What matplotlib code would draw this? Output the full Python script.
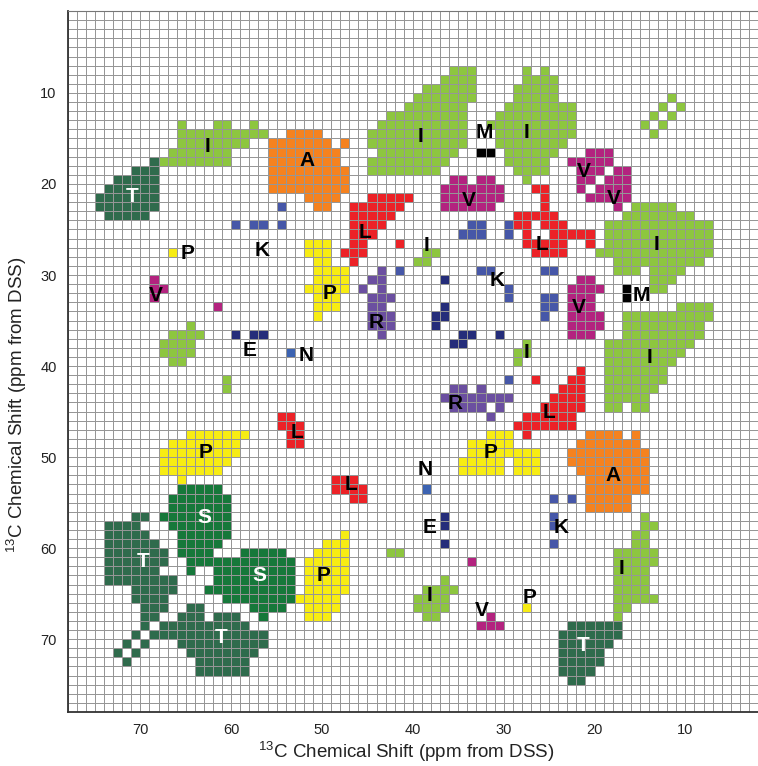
import matplotlib
matplotlib.use("Agg")
import matplotlib.pyplot as plt
import numpy as np
from matplotlib.colors import ListedColormap

# 13C-13C correlation regions per residue type, 1 ppm cells.
# Each run is (y, x_hi, x_lo): the cells from x_lo up to x_hi on row y..y+1 (ppm)
ILE = [
    (13, 66, 65), (13, 62, 60), (13, 58, 57), (14, 66, 56), (15, 66, 58), (16, 67, 60), (17, 68, 60),
    (7, 36, 33), (8, 37, 33), (9, 39, 33), (10, 40, 33), (11, 41, 34), (12, 43, 34), (13, 44, 34),
    (14, 45, 34), (15, 45, 34), (16, 44, 35), (17, 45, 36), (18, 45, 37),
    (7, 28, 27), (7, 26, 25), (8, 28, 24), (9, 29, 24), (10, 29, 24), (11, 30, 22), (12, 31, 22),
    (13, 32, 22), (14, 31, 22), (15, 31, 23), (16, 30, 24), (17, 30, 25), (18, 29, 25), (19, 28, 27),
    (10, 12, 11), (11, 13, 12), (11, 11, 10), (12, 14, 13), (12, 12, 11), (13, 15, 14), (13, 13, 12),
    (14, 14, 13),
    (27, 39, 37), (28, 40, 38),
    (22, 16, 11), (23, 17, 9), (24, 19, 7), (25, 19, 7), (26, 19, 7), (27, 20, 7), (28, 18, 8),
    (29, 18, 15), (29, 14, 10), (30, 14, 11), (31, 14, 12),
    (33, 11, 7), (34, 17, 7), (35, 17, 8), (36, 17, 8), (37, 19, 9), (38, 19, 10), (39, 19, 11),
    (40, 19, 12), (41, 19, 12), (42, 19, 13), (43, 19, 14), (44, 19, 17), (44, 16, 14),
    (37, 28, 27), (38, 29, 27), (39, 29, 28),
    (35, 65, 64), (36, 67, 63), (37, 68, 64), (38, 68, 64), (39, 67, 65), (41, 61, 60), (42, 61, 60),
    (60, 43, 41),
    (63, 37, 36), (64, 39, 35), (65, 40, 36), (66, 40, 36), (67, 39, 37),
    (56, 15, 14), (57, 15, 13), (58, 16, 14), (59, 16, 14), (60, 18, 13), (61, 18, 13), (62, 18, 14),
    (63, 18, 14), (64, 18, 14), (65, 18, 13), (66, 18, 16), (67, 18, 17),
]
THR = [
    (17, 69, 68), (18, 71, 68), (19, 73, 68), (20, 74, 68), (21, 75, 68), (22, 75, 68), (23, 74, 69),
    (56, 71, 69), (57, 74, 70), (58, 74, 69), (59, 74, 68), (60, 74, 67), (61, 74, 67), (62, 74, 68),
    (63, 74, 66), (64, 71, 66), (65, 71, 67), (66, 70, 67), (67, 70, 68), (68, 70, 69),
    (69, 71, 70), (70, 72, 71), (70, 70, 69), (71, 73, 72), (71, 71, 70), (72, 72, 71),
    (66, 65, 63), (67, 66, 63), (67, 62, 59), (68, 68, 58), (69, 69, 56), (70, 66, 56), (71, 65, 57),
    (72, 64, 58), (73, 64, 58),
    (68, 23, 17), (69, 24, 17), (70, 24, 18), (71, 24, 19), (72, 24, 19), (73, 24, 20), (74, 23, 21),
]
SER = [
    (53, 66, 61), (54, 67, 60), (55, 67, 60), (56, 68, 60), (57, 67, 60), (58, 66, 60), (59, 66, 61),
    (60, 66, 62), (61, 65, 62), (62, 65, 64),
    (60, 59, 54), (61, 62, 53), (62, 62, 53), (63, 62, 53), (64, 63, 53), (65, 61, 53), (66, 58, 54),
    (67, 57, 56),
]
ALA = [
    (14, 54, 50), (15, 56, 49), (15, 48, 47), (16, 56, 48), (17, 56, 48), (18, 56, 47), (19, 56, 47),
    (20, 56, 47), (21, 52, 48), (22, 51, 49),
    (47, 21, 17), (47, 16, 15), (48, 22, 15), (49, 23, 14), (50, 23, 14), (51, 22, 14), (52, 21, 14),
    (53, 21, 14), (54, 21, 16), (55, 21, 16),
]
VAL = [
    (19, 36, 34), (19, 33, 31), (20, 37, 30), (21, 37, 30), (22, 37, 31),
    (16, 21, 18), (17, 23, 18), (18, 22, 19), (18, 18, 16), (19, 22, 20), (19, 19, 16), (20, 22, 21),
    (20, 20, 16), (21, 21, 16), (22, 18, 17),
    (30, 22, 20), (31, 23, 19), (32, 23, 20), (33, 23, 20), (34, 23, 19), (35, 23, 19), (36, 23, 20),
    (30, 69, 68), (31, 69, 67), (32, 69, 68), (33, 62, 61),
    (67, 32, 31), (68, 33, 30), (61, 34, 33),
]
LEU = [
    (21, 45, 40), (22, 47, 41), (23, 47, 42), (24, 47, 43), (25, 47, 44), (26, 47, 45), (27, 48, 45),
    (28, 47, 46), (26, 42, 41),
    (20, 27, 25), (21, 26, 25), (22, 26, 25), (23, 29, 24), (24, 29, 27), (24, 26, 23), (25, 28, 27),
    (25, 25, 20), (26, 28, 23), (26, 21, 20), (27, 27, 23),
    (40, 22, 21), (41, 27, 26), (41, 23, 21), (42, 24, 21), (43, 25, 21), (44, 26, 21), (45, 28, 22),
    (46, 29, 22), (47, 28, 27),
    (45, 55, 53), (46, 55, 52), (47, 54, 52), (48, 54, 52),
    (52, 49, 46), (53, 49, 45), (54, 47, 45),
]
PRO = [
    (27, 67, 66),
    (26, 52, 49), (27, 52, 49), (28, 51, 49), (29, 51, 47), (30, 51, 47), (31, 52, 47), (32, 51, 48),
    (33, 51, 48), (34, 51, 50),
    (47, 65, 58), (48, 67, 59), (49, 68, 59), (50, 68, 60), (51, 68, 61), (52, 66, 65),
    (47, 32, 29), (48, 34, 29), (49, 34, 26), (50, 35, 30), (50, 29, 26), (51, 35, 30), (51, 29, 26),
    (58, 48, 47), (59, 50, 47), (60, 51, 47), (61, 52, 47), (62, 52, 47), (63, 52, 47), (64, 52, 47),
    (65, 53, 48), (66, 52, 48), (67, 52, 49),
    (66, 28, 27),
]
MET = [(16, 33, 31), (31, 17, 16), (32, 17, 16)]
LYS = [
    (22, 55, 54), (24, 60, 59), (24, 58, 56), (24, 55, 54),
    (24, 34, 32), (24, 30, 29), (25, 35, 32), (25, 30, 29),
    (29, 33, 31), (29, 26, 24), (29, 42, 41), (31, 30, 29), (32, 30, 29),
    (32, 26, 24), (33, 26, 24), (34, 26, 25), (41, 30, 29),
    (54, 25, 24), (54, 23, 22), (56, 25, 24), (57, 25, 24), (59, 25, 24),
]
GLU = [
    (36, 60, 59), (36, 58, 56),
    (30, 37, 36), (33, 37, 36), (34, 38, 36), (35, 38, 37), (36, 35, 33), (36, 31, 30), (37, 36, 34),
    (56, 37, 36), (57, 37, 36), (59, 37, 36),
]
ASN = [(38, 54, 53), (53, 39, 38)]
ARG = [
    (29, 44, 43), (30, 45, 43), (31, 46, 45), (31, 44, 43), (32, 45, 42), (33, 45, 43), (34, 45, 42),
    (35, 45, 42), (36, 44, 43),
    (42, 36, 34), (42, 33, 32), (43, 37, 29), (44, 36, 32), (44, 31, 30), (45, 32, 31),
]

residues = [ILE, THR, SER, ALA, VAL, LEU, PRO, MET, LYS, GLU, ASN, ARG]
colors = ["#ffffff", "#8dc63f", "#2f6b4c", "#16783a", "#f5821f", "#b3237f", "#ec2227",
          "#f7ec13", "#000000", "#4657a8", "#252d7a", "#3c63b2", "#6b4fa0"]

# one-letter labels: (text, x ppm, y ppm, colour)
labels = [
    ("I", 62.6, 15.9, "k"), ("T", 70.9, 21.4, "w"), ("A", 51.7, 17.4, "k"), ("I", 39.2, 14.8, "k"),
    ("M", 32.1, 14.4, "k"), ("I", 27.5, 14.4, "k"), ("V", 21.2, 18.6, "k"), ("V", 17.9, 21.6, "k"),
    ("V", 33.8, 21.8, "k"), ("L", 45.3, 25.3, "k"), ("I", 38.5, 26.8, "k"), ("L", 25.8, 26.6, "k"),
    ("I", 13.2, 26.6, "k"), ("K", 56.6, 27.3, "k"), ("P", 64.8, 27.6, "k"), ("K", 30.7, 30.6, "k"),
    ("P", 49.2, 32.0, "k"), ("M", 14.9, 32.2, "k"), ("V", 68.3, 32.3, "k"), ("R", 44.0, 35.2, "k"),
    ("V", 21.7, 33.6, "k"), ("E", 58.0, 38.3, "k"), ("N", 51.8, 38.8, "k"), ("I", 27.5, 38.5, "k"),
    ("I", 14.0, 39.1, "k"), ("R", 35.3, 44.1, "k"), ("L", 25.0, 45.1, "k"), ("L", 52.7, 47.3, "k"),
    ("P", 62.8, 49.5, "k"), ("P", 31.4, 49.5, "k"), ("A", 18.0, 52.0, "k"), ("N", 38.7, 51.4, "k"),
    ("L", 46.8, 53.0, "k"), ("S", 63.0, 56.6, "w"), ("E", 38.2, 57.7, "k"), ("K", 23.7, 57.7, "k"),
    ("T", 69.7, 61.5, "w"), ("S", 56.9, 63.0, "w"), ("P", 49.8, 63.0, "k"), ("I", 17.0, 62.2, "k"),
    ("I", 38.2, 65.2, "k"), ("P", 27.1, 65.4, "k"), ("V", 32.4, 66.9, "k"), ("T", 61.1, 69.8, "w"),
    ("T", 21.2, 70.7, "w"),
]

x_edges = np.arange(2, 79)
y_edges = np.arange(1, 79)
grid = np.zeros((len(y_edges) - 1, len(x_edges) - 1))
for code, runs in enumerate(residues, start=1):
    for y, x_hi, x_lo in runs:
        for x in range(x_lo, x_hi):
            grid[y - 1, x - 2] = code

plt.rcParams["mathtext.fontset"] = "custom"
plt.rcParams["mathtext.rm"] = "Liberation Sans"

fig = plt.figure(figsize=(7.58, 7.66), dpi=100)
ax = fig.add_axes([67.7 / 758, 54 / 766, (758 - 67.7) / 758, 701 / 766])

ax.pcolormesh(x_edges, y_edges, grid, cmap=ListedColormap(colors), vmin=-0.5,
              vmax=len(colors) - 0.5, edgecolors="#969696", linewidth=0.65)

for txt, x, y, c in labels:
    ax.text(x, y, txt, color=c, fontsize=15, fontweight="bold", family="Liberation Sans",
            ha="center", va="center")

ax.set_xlim(78, 2)
ax.set_ylim(78, 1)
ax.set_xticks(np.arange(10, 80, 10))
ax.set_yticks(np.arange(10, 80, 10))
ax.tick_params(length=0, labelsize=10.5, labelcolor="#222222", pad=8)
for lab in ax.get_xticklabels() + ax.get_yticklabels():
    lab.set_family("Liberation Sans")

ax.spines["right"].set_visible(False)
ax.spines["top"].set_color("#777777")
ax.spines["left"].set_color("#333333")
ax.spines["bottom"].set_color("#333333")
ax.spines["left"].set_linewidth(1.3)
ax.spines["bottom"].set_linewidth(1.3)

axis_title = r"$^{13}$C Chemical Shift (ppm from DSS)"
fig.text(406 / 758, 14 / 766, axis_title, ha="center", va="center",
         fontsize=13.5, family="Liberation Sans", color="#222222")
fig.text(17 / 758, 1 - 405 / 766, axis_title, ha="center", va="center", rotation=90,
         fontsize=13.5, family="Liberation Sans", color="#222222")

fig.savefig("out.png", dpi=100)
